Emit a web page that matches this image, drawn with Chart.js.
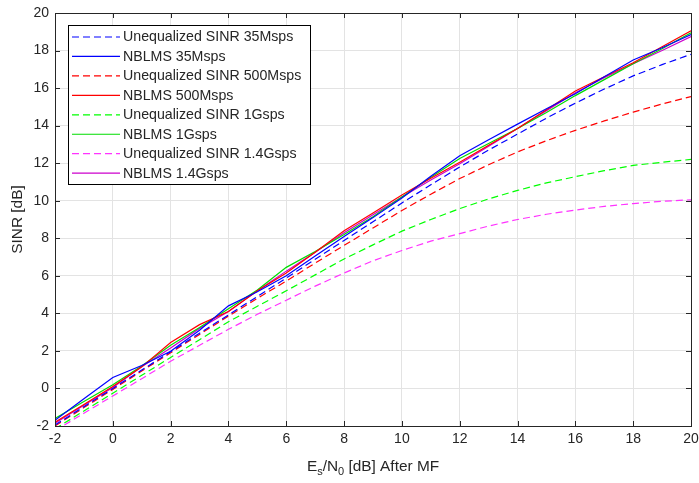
<!DOCTYPE html>
<html>
<head>
<meta charset="utf-8">
<script src="https://cdn.jsdelivr.net/npm/chart.js@4.4.0/dist/chart.umd.min.js"></script>
<style>
html, body { margin: 0; padding: 0; background: #fff; }
#wrap { width: 699px; height: 483px; }
</style>
</head>
<body>
<div id="wrap"><canvas id="sinrChart"></canvas></div>
<script>
// Es/N0 after MF [dB]
const esn0 = [-2, -1, 0, 1, 2, 3, 4, 5, 6, 7, 8, 9, 10, 11, 12, 13, 14, 15, 16, 17, 18, 19, 20];

// SINR [dB]
const uneq35M  = [-1.95, -0.97, 0.0, 0.98, 1.96, 2.94, 3.92, 4.9, 5.88, 6.88, 7.88, 8.88, 9.88, 10.85, 11.8, 12.7, 13.55, 14.4, 15.2, 15.95, 16.65, 17.25, 17.8];
const nblms35M = [-1.7, -0.55, 0.58, 1.22, 1.98, 3.1, 4.4, 5.15, 6.0, 7.05, 8.1, 9.1, 10.15, 11.3, 12.4, 13.25, 14.08, 14.9, 15.7, 16.6, 17.5, 18.15, 18.85];
const uneq500M  = [-2.0, -1.02, -0.05, 0.93, 1.9, 2.88, 3.85, 4.8, 5.72, 6.68, 7.62, 8.55, 9.48, 10.35, 11.18, 11.92, 12.6, 13.2, 13.75, 14.25, 14.72, 15.15, 15.55];
const nblms500M = [-1.8, -0.85, 0.1, 1.15, 2.45, 3.4, 4.1, 5.2, 6.15, 7.25, 8.4, 9.35, 10.3, 11.2, 12.05, 12.95, 13.85, 14.85, 15.85, 16.6, 17.35, 18.2, 19.05];
const uneq1G  = [-2.15, -1.2, -0.25, 0.7, 1.65, 2.6, 3.55, 4.38, 5.2, 6.05, 6.9, 7.65, 8.38, 9.0, 9.58, 10.1, 10.55, 10.95, 11.28, 11.6, 11.88, 12.05, 12.2];
const nblms1G = [-1.6, -0.7, 0.2, 1.2, 2.3, 3.25, 4.25, 5.25, 6.45, 7.3, 8.2, 9.15, 10.2, 11.25, 12.25, 13.05, 13.85, 14.7, 15.6, 16.45, 17.3, 18.1, 18.95];
const uneq14G  = [-2.25, -1.32, -0.4, 0.52, 1.45, 2.3, 3.15, 3.95, 4.7, 5.45, 6.15, 6.8, 7.35, 7.85, 8.25, 8.65, 9.0, 9.28, 9.5, 9.7, 9.85, 9.97, 10.05];
const nblms14G = [-1.85, -0.9, 0.05, 1.15, 2.15, 3.2, 4.1, 5.2, 6.25, 7.25, 8.3, 9.25, 10.2, 11.1, 11.97, 12.9, 13.85, 14.8, 15.75, 16.55, 17.3, 18.0, 18.75];

const seriesNames = [
    'Unequalized SINR 35Msps', 'NBLMS 35Msps',
    'Unequalized SINR 500Msps', 'NBLMS 500Msps',
    'Unequalized SINR 1Gsps', 'NBLMS 1Gsps',
    'Unequalized SINR 1.4Gsps', 'NBLMS 1.4Gsps'
];

// Tick delle assi
const xTickValues = [-2, 0, 2, 4, 6, 8, 10, 12, 14, 16, 18, 20];
const yTickValues = [-2, 0, 2, 4, 6, 8, 10, 12, 14, 16, 18, 20];

const FONT = "'Liberation Sans', Arial, sans-serif";
const AXIS_COLOR = '#262626';

function makeSet(label, values, color, dashed) {
    return {
        label: label,
        data: esn0.map((x, i) => ({ x: x, y: values[i] })),
        borderColor: color,
        backgroundColor: color,
        borderWidth: 1.2,
        borderDash: dashed ? [7, 4] : [],
        pointRadius: 0,
        tension: 0,
        fill: false
    };
}

const datasets = [
    makeSet(seriesNames[0], uneq35M, '#0000FF', true),
    makeSet(seriesNames[1], nblms35M, '#0000FF', false),
    makeSet(seriesNames[2], uneq500M, '#FF0000', true),
    makeSet(seriesNames[3], nblms500M, '#FF0000', false),
    makeSet(seriesNames[4], uneq1G, '#00FF00', true),
    makeSet(seriesNames[5], nblms1G, '#00DD00', false),
    makeSet(seriesNames[6], uneq14G, '#FF33FF', true),
    makeSet(seriesNames[7], nblms14G, '#CC00CC', false)
];

// Box, tick interni, legenda e titoli degli assi in stile MATLAB
const matlabFrame = {
    id: 'matlabFrame',
    afterDraw(chart) {
        const ctx = chart.ctx;
        const a = chart.chartArea;
        const xs = chart.scales.x, ys = chart.scales.y;
        const tl = 5;

        ctx.save();
        ctx.strokeStyle = AXIS_COLOR;
        ctx.lineWidth = 1;
        ctx.setLineDash([]);
        ctx.beginPath();
        xTickValues.forEach(v => {
            const px = Math.round(xs.getPixelForValue(v)) + 0.5;
            ctx.moveTo(px, a.bottom); ctx.lineTo(px, a.bottom - tl);
            ctx.moveTo(px, a.top); ctx.lineTo(px, a.top + tl);
        });
        yTickValues.forEach(v => {
            const py = Math.round(ys.getPixelForValue(v)) + 0.5;
            ctx.moveTo(a.left, py); ctx.lineTo(a.left + tl, py);
            ctx.moveTo(a.right, py); ctx.lineTo(a.right - tl, py);
        });
        ctx.stroke();
        ctx.strokeRect(Math.round(a.left) + 0.5, Math.round(a.top) + 0.5,
            Math.round(a.right - a.left), Math.round(a.bottom - a.top));

        // Legenda
        const lx = 68, ly = 25, lw = 242, lh = 159, rowH = 19.45;
        ctx.fillStyle = '#fff';
        ctx.fillRect(lx, ly, lw, lh);
        ctx.strokeStyle = '#000';
        ctx.strokeRect(lx + 0.5, ly + 0.5, lw, lh);
        ctx.font = '14.2px ' + FONT;
        ctx.textBaseline = 'middle';
        ctx.textAlign = 'left';
        chart.data.datasets.forEach((ds, i) => {
            const y = ly + 12 + i * rowH;
            ctx.strokeStyle = ds.borderColor;
            ctx.lineWidth = 1.2;
            ctx.setLineDash(ds.borderDash);
            ctx.beginPath();
            ctx.moveTo(72, y); ctx.lineTo(120, y);
            ctx.stroke();
            ctx.setLineDash([]);
            ctx.fillStyle = AXIS_COLOR;
            ctx.fillText(ds.label, 123, y + 0.5);
        });

        // Titolo asse Y
        ctx.fillStyle = AXIS_COLOR;
        ctx.save();
        ctx.translate(18, (a.top + a.bottom) / 2);
        ctx.rotate(-Math.PI / 2);
        ctx.font = '15.4px ' + FONT;
        ctx.textAlign = 'center';
        ctx.textBaseline = 'middle';
        ctx.fillText('SINR [dB]', 0, 0);
        ctx.restore();

        // Titolo asse X con pedici
        const parts = [
            { t: 'E', sub: false }, { t: 's', sub: true },
            { t: '/N', sub: false }, { t: '0', sub: true },
            { t: ' [dB] After MF', sub: false }
        ];
        const bigFont = '15.4px ' + FONT, smallFont = '11px ' + FONT;
        let total = 0;
        parts.forEach(p => { ctx.font = p.sub ? smallFont : bigFont; total += ctx.measureText(p.t).width; });
        let cx = (a.left + a.right) / 2 - total / 2;
        const base = 471;
        ctx.textAlign = 'left';
        ctx.textBaseline = 'alphabetic';
        parts.forEach(p => {
            ctx.font = p.sub ? smallFont : bigFont;
            ctx.fillText(p.t, cx, p.sub ? base + 4 : base);
            cx += ctx.measureText(p.t).width;
        });
        ctx.restore();
    }
};

new Chart(document.getElementById('sinrChart'), {
    type: 'line',
    data: { datasets: datasets },
    options: {
        responsive: true,
        maintainAspectRatio: false,
        animation: false,
        layout: { padding: { left: 0, top: 13, right: 8, bottom: 0 } },
        plugins: { legend: { display: false }, tooltip: { enabled: false } },
        scales: {
            x: {
                type: 'linear',
                min: -2, max: 20,
                afterBuildTicks: s => { s.ticks = xTickValues.map(v => ({ value: v })); },
                afterFit: s => { s.height = 57; s.paddingLeft = 0; s.paddingRight = 0; },
                grid: { color: '#e3e3e3', drawTicks: false },
                border: { display: false },
                ticks: { padding: 5, color: AXIS_COLOR, font: { family: FONT, size: 14 }, maxRotation: 0 }
            },
            y: {
                type: 'linear',
                min: -2, max: 20,
                afterBuildTicks: s => { s.ticks = yTickValues.map(v => ({ value: v })); },
                afterFit: s => { s.width = 55; s.paddingTop = 0; s.paddingBottom = 0; },
                grid: { color: '#e3e3e3', drawTicks: false },
                border: { display: false },
                ticks: { padding: 6, color: AXIS_COLOR, font: { family: FONT, size: 14 } }
            }
        }
    },
    plugins: [matlabFrame]
});
</script>
</body>
</html>
